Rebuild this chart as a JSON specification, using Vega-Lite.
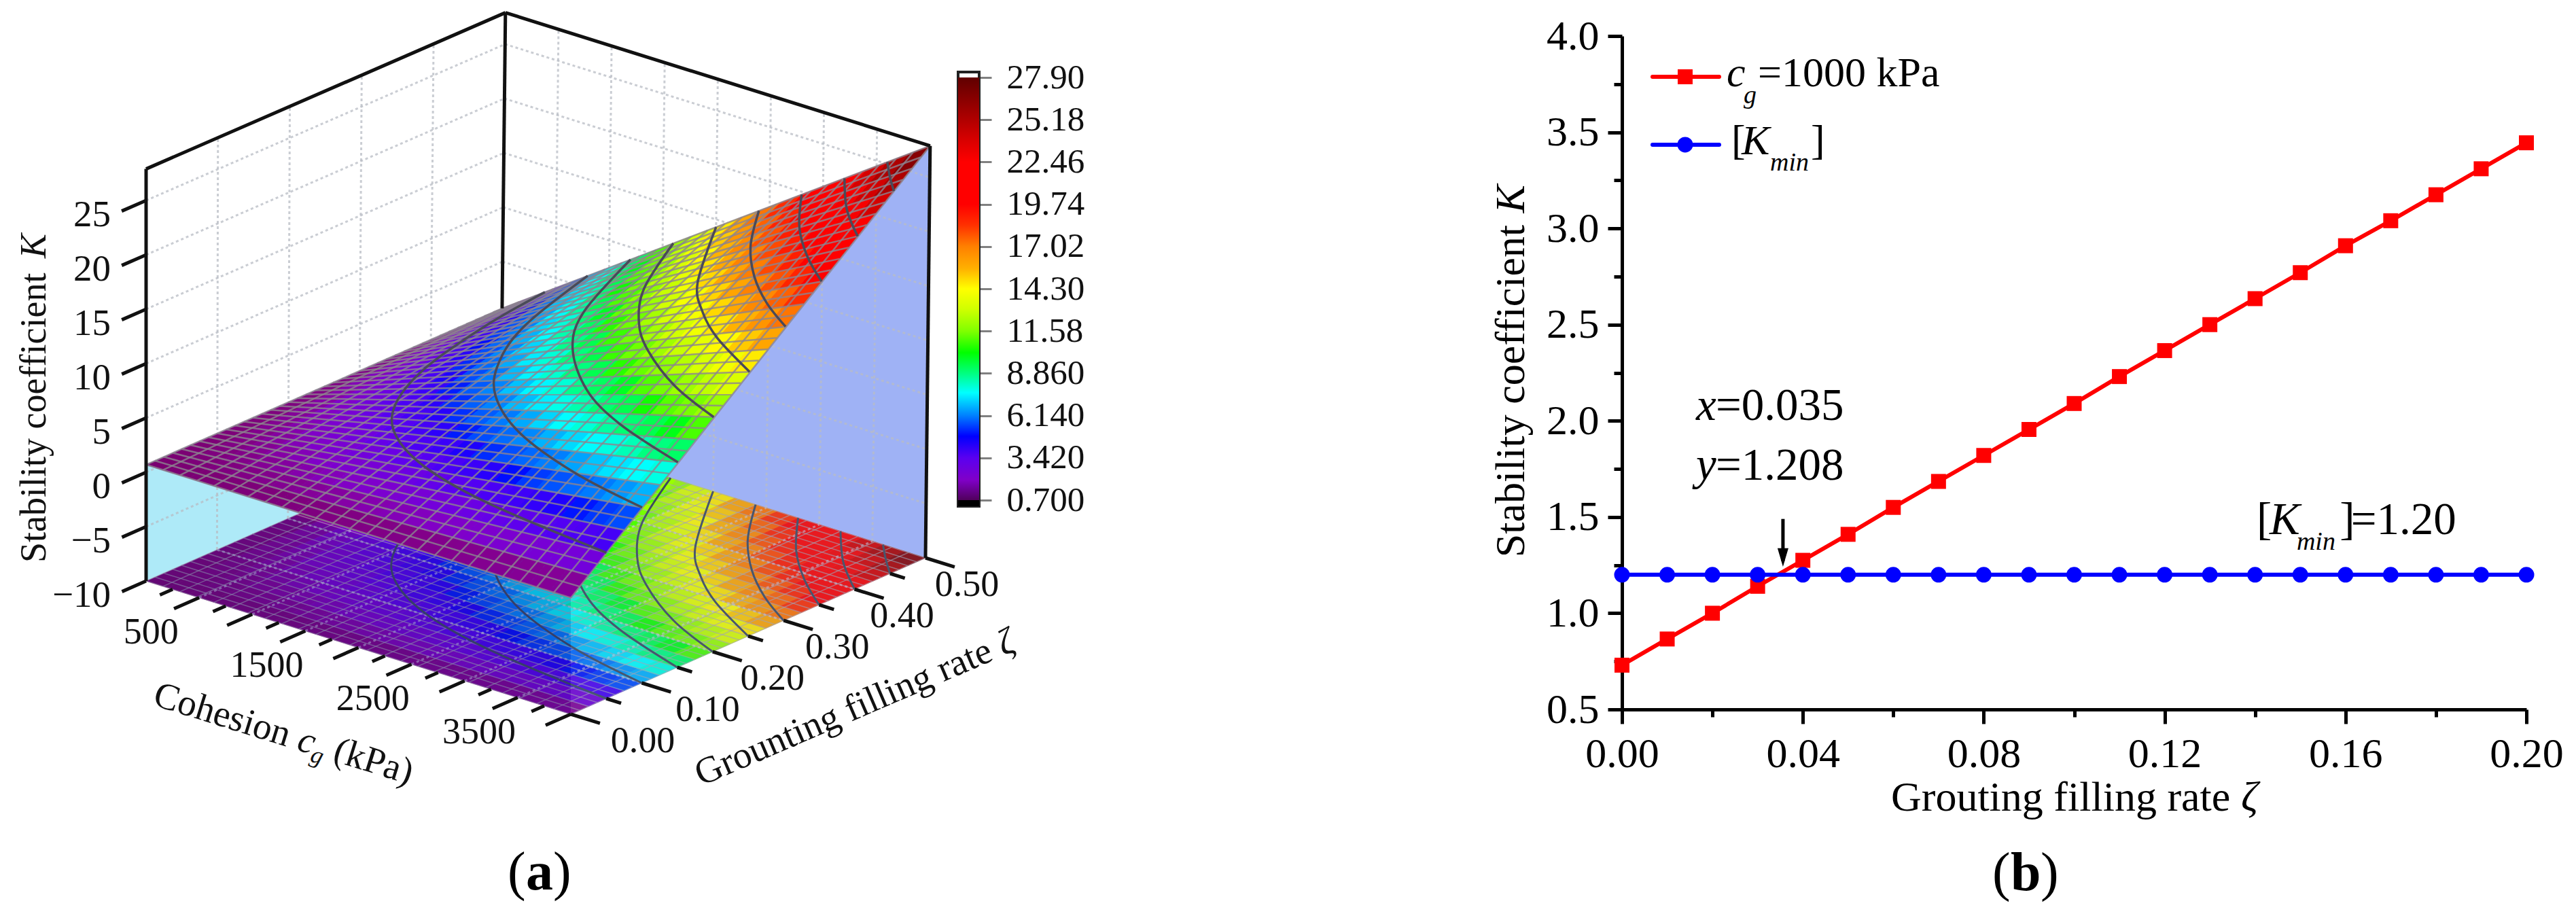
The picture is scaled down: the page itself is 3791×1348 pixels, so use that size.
{"$schema":"https://vega.github.io/schema/vega-lite/v6.json","width":3791,"height":1348,"autosize":{"type":"fit","contains":"padding"},"padding":0,"background":"white","config":{"view":{"stroke":null},"axis":{"grid":false}},
"datasets":{
"nodes":[
{"id":0,"K":0.7},{"id":1,"K":0.7},{"id":2,"K":0.7},{"id":3,"K":0.7},{"id":4,"K":0.7},{"id":5,"K":0.7},{"id":6,"K":0.7},{"id":7,"K":0.7},{"id":8,"K":0.7},{"id":9,"K":0.7},{"id":10,"K":0.7},{"id":11,"K":0.7},{"id":12,"K":0.7},{"id":13,"K":0.7},{"id":14,"K":0.7},{"id":15,"K":0.7},{"id":16,"K":0.7},{"id":17,"K":0.7},{"id":18,"K":0.7},{"id":19,"K":0.7},{"id":20,"K":0.7},
{"id":100,"K":0.7},{"id":101,"K":0.77},{"id":102,"K":0.84},{"id":103,"K":0.9},{"id":104,"K":0.97},{"id":105,"K":1.04},{"id":106,"K":1.11},{"id":107,"K":1.18},{"id":108,"K":1.24},{"id":109,"K":1.31},{"id":110,"K":1.38},{"id":111,"K":1.45},{"id":112,"K":1.52},{"id":113,"K":1.58},{"id":114,"K":1.65},{"id":115,"K":1.72},{"id":116,"K":1.79},{"id":117,"K":1.86},{"id":118,"K":1.92},{"id":119,"K":1.99},{"id":120,"K":2.06},
{"id":200,"K":0.7},{"id":201,"K":0.84},{"id":202,"K":0.97},{"id":203,"K":1.11},{"id":204,"K":1.24},{"id":205,"K":1.38},{"id":206,"K":1.52},{"id":207,"K":1.65},{"id":208,"K":1.79},{"id":209,"K":1.92},{"id":210,"K":2.06},{"id":211,"K":2.2},{"id":212,"K":2.33},{"id":213,"K":2.47},{"id":214,"K":2.6},{"id":215,"K":2.74},{"id":216,"K":2.88},{"id":217,"K":3.01},{"id":218,"K":3.15},{"id":219,"K":3.28},{"id":220,"K":3.42},
{"id":300,"K":0.7},{"id":301,"K":0.9},{"id":302,"K":1.11},{"id":303,"K":1.31},{"id":304,"K":1.52},{"id":305,"K":1.72},{"id":306,"K":1.92},{"id":307,"K":2.13},{"id":308,"K":2.33},{"id":309,"K":2.54},{"id":310,"K":2.74},{"id":311,"K":2.94},{"id":312,"K":3.15},{"id":313,"K":3.35},{"id":314,"K":3.56},{"id":315,"K":3.76},{"id":316,"K":3.96},{"id":317,"K":4.17},{"id":318,"K":4.37},{"id":319,"K":4.58},{"id":320,"K":4.78},
{"id":400,"K":0.7},{"id":401,"K":0.97},{"id":402,"K":1.24},{"id":403,"K":1.52},{"id":404,"K":1.79},{"id":405,"K":2.06},{"id":406,"K":2.33},{"id":407,"K":2.6},{"id":408,"K":2.88},{"id":409,"K":3.15},{"id":410,"K":3.42},{"id":411,"K":3.69},{"id":412,"K":3.96},{"id":413,"K":4.24},{"id":414,"K":4.51},{"id":415,"K":4.78},{"id":416,"K":5.05},{"id":417,"K":5.32},{"id":418,"K":5.6},{"id":419,"K":5.87},{"id":420,"K":6.14},
{"id":500,"K":0.7},{"id":501,"K":1.04},{"id":502,"K":1.38},{"id":503,"K":1.72},{"id":504,"K":2.06},{"id":505,"K":2.4},{"id":506,"K":2.74},{"id":507,"K":3.08},{"id":508,"K":3.42},{"id":509,"K":3.76},{"id":510,"K":4.1},{"id":511,"K":4.44},{"id":512,"K":4.78},{"id":513,"K":5.12},{"id":514,"K":5.46},{"id":515,"K":5.8},{"id":516,"K":6.14},{"id":517,"K":6.48},{"id":518,"K":6.82},{"id":519,"K":7.16},{"id":520,"K":7.5},
{"id":600,"K":0.7},{"id":601,"K":1.11},{"id":602,"K":1.52},{"id":603,"K":1.92},{"id":604,"K":2.33},{"id":605,"K":2.74},{"id":606,"K":3.15},{"id":607,"K":3.56},{"id":608,"K":3.96},{"id":609,"K":4.37},{"id":610,"K":4.78},{"id":611,"K":5.19},{"id":612,"K":5.6},{"id":613,"K":6.0},{"id":614,"K":6.41},{"id":615,"K":6.82},{"id":616,"K":7.23},{"id":617,"K":7.64},{"id":618,"K":8.04},{"id":619,"K":8.45},{"id":620,"K":8.86},
{"id":700,"K":0.7},{"id":701,"K":1.18},{"id":702,"K":1.65},{"id":703,"K":2.13},{"id":704,"K":2.6},{"id":705,"K":3.08},{"id":706,"K":3.56},{"id":707,"K":4.03},{"id":708,"K":4.51},{"id":709,"K":4.98},{"id":710,"K":5.46},{"id":711,"K":5.94},{"id":712,"K":6.41},{"id":713,"K":6.89},{"id":714,"K":7.36},{"id":715,"K":7.84},{"id":716,"K":8.32},{"id":717,"K":8.79},{"id":718,"K":9.27},{"id":719,"K":9.74},{"id":720,"K":10.22},
{"id":800,"K":0.7},{"id":801,"K":1.24},{"id":802,"K":1.79},{"id":803,"K":2.33},{"id":804,"K":2.88},{"id":805,"K":3.42},{"id":806,"K":3.96},{"id":807,"K":4.51},{"id":808,"K":5.05},{"id":809,"K":5.6},{"id":810,"K":6.14},{"id":811,"K":6.68},{"id":812,"K":7.23},{"id":813,"K":7.77},{"id":814,"K":8.32},{"id":815,"K":8.86},{"id":816,"K":9.4},{"id":817,"K":9.95},{"id":818,"K":10.49},{"id":819,"K":11.04},{"id":820,"K":11.58},
{"id":900,"K":0.7},{"id":901,"K":1.31},{"id":902,"K":1.92},{"id":903,"K":2.54},{"id":904,"K":3.15},{"id":905,"K":3.76},{"id":906,"K":4.37},{"id":907,"K":4.98},{"id":908,"K":5.6},{"id":909,"K":6.21},{"id":910,"K":6.82},{"id":911,"K":7.43},{"id":912,"K":8.04},{"id":913,"K":8.66},{"id":914,"K":9.27},{"id":915,"K":9.88},{"id":916,"K":10.49},{"id":917,"K":11.1},{"id":918,"K":11.72},{"id":919,"K":12.33},{"id":920,"K":12.94},
{"id":1000,"K":0.7},{"id":1001,"K":1.38},{"id":1002,"K":2.06},{"id":1003,"K":2.74},{"id":1004,"K":3.42},{"id":1005,"K":4.1},{"id":1006,"K":4.78},{"id":1007,"K":5.46},{"id":1008,"K":6.14},{"id":1009,"K":6.82},{"id":1010,"K":7.5},{"id":1011,"K":8.18},{"id":1012,"K":8.86},{"id":1013,"K":9.54},{"id":1014,"K":10.22},{"id":1015,"K":10.9},{"id":1016,"K":11.58},{"id":1017,"K":12.26},{"id":1018,"K":12.94},{"id":1019,"K":13.62},{"id":1020,"K":14.3},
{"id":1100,"K":0.7},{"id":1101,"K":1.45},{"id":1102,"K":2.2},{"id":1103,"K":2.94},{"id":1104,"K":3.69},{"id":1105,"K":4.44},{"id":1106,"K":5.19},{"id":1107,"K":5.94},{"id":1108,"K":6.68},{"id":1109,"K":7.43},{"id":1110,"K":8.18},{"id":1111,"K":8.93},{"id":1112,"K":9.68},{"id":1113,"K":10.42},{"id":1114,"K":11.17},{"id":1115,"K":11.92},{"id":1116,"K":12.67},{"id":1117,"K":13.42},{"id":1118,"K":14.16},{"id":1119,"K":14.91},{"id":1120,"K":15.66},
{"id":1200,"K":0.7},{"id":1201,"K":1.52},{"id":1202,"K":2.33},{"id":1203,"K":3.15},{"id":1204,"K":3.96},{"id":1205,"K":4.78},{"id":1206,"K":5.6},{"id":1207,"K":6.41},{"id":1208,"K":7.23},{"id":1209,"K":8.04},{"id":1210,"K":8.86},{"id":1211,"K":9.68},{"id":1212,"K":10.49},{"id":1213,"K":11.31},{"id":1214,"K":12.12},{"id":1215,"K":12.94},{"id":1216,"K":13.76},{"id":1217,"K":14.57},{"id":1218,"K":15.39},{"id":1219,"K":16.2},{"id":1220,"K":17.02},
{"id":1300,"K":0.7},{"id":1301,"K":1.58},{"id":1302,"K":2.47},{"id":1303,"K":3.35},{"id":1304,"K":4.24},{"id":1305,"K":5.12},{"id":1306,"K":6.0},{"id":1307,"K":6.89},{"id":1308,"K":7.77},{"id":1309,"K":8.66},{"id":1310,"K":9.54},{"id":1311,"K":10.42},{"id":1312,"K":11.31},{"id":1313,"K":12.19},{"id":1314,"K":13.08},{"id":1315,"K":13.96},{"id":1316,"K":14.84},{"id":1317,"K":15.73},{"id":1318,"K":16.61},{"id":1319,"K":17.5},{"id":1320,"K":18.38},
{"id":1400,"K":0.7},{"id":1401,"K":1.65},{"id":1402,"K":2.6},{"id":1403,"K":3.56},{"id":1404,"K":4.51},{"id":1405,"K":5.46},{"id":1406,"K":6.41},{"id":1407,"K":7.36},{"id":1408,"K":8.32},{"id":1409,"K":9.27},{"id":1410,"K":10.22},{"id":1411,"K":11.17},{"id":1412,"K":12.12},{"id":1413,"K":13.08},{"id":1414,"K":14.03},{"id":1415,"K":14.98},{"id":1416,"K":15.93},{"id":1417,"K":16.88},{"id":1418,"K":17.84},{"id":1419,"K":18.79},{"id":1420,"K":19.74},
{"id":1500,"K":0.7},{"id":1501,"K":1.72},{"id":1502,"K":2.74},{"id":1503,"K":3.76},{"id":1504,"K":4.78},{"id":1505,"K":5.8},{"id":1506,"K":6.82},{"id":1507,"K":7.84},{"id":1508,"K":8.86},{"id":1509,"K":9.88},{"id":1510,"K":10.9},{"id":1511,"K":11.92},{"id":1512,"K":12.94},{"id":1513,"K":13.96},{"id":1514,"K":14.98},{"id":1515,"K":16.0},{"id":1516,"K":17.02},{"id":1517,"K":18.04},{"id":1518,"K":19.06},{"id":1519,"K":20.08},{"id":1520,"K":21.1},
{"id":1600,"K":0.7},{"id":1601,"K":1.79},{"id":1602,"K":2.88},{"id":1603,"K":3.96},{"id":1604,"K":5.05},{"id":1605,"K":6.14},{"id":1606,"K":7.23},{"id":1607,"K":8.32},{"id":1608,"K":9.4},{"id":1609,"K":10.49},{"id":1610,"K":11.58},{"id":1611,"K":12.67},{"id":1612,"K":13.76},{"id":1613,"K":14.84},{"id":1614,"K":15.93},{"id":1615,"K":17.02},{"id":1616,"K":18.11},{"id":1617,"K":19.2},{"id":1618,"K":20.28},{"id":1619,"K":21.37},{"id":1620,"K":22.46},
{"id":1700,"K":0.7},{"id":1701,"K":1.86},{"id":1702,"K":3.01},{"id":1703,"K":4.17},{"id":1704,"K":5.32},{"id":1705,"K":6.48},{"id":1706,"K":7.64},{"id":1707,"K":8.79},{"id":1708,"K":9.95},{"id":1709,"K":11.1},{"id":1710,"K":12.26},{"id":1711,"K":13.42},{"id":1712,"K":14.57},{"id":1713,"K":15.73},{"id":1714,"K":16.88},{"id":1715,"K":18.04},{"id":1716,"K":19.2},{"id":1717,"K":20.35},{"id":1718,"K":21.51},{"id":1719,"K":22.66},{"id":1720,"K":23.82},
{"id":1800,"K":0.7},{"id":1801,"K":1.92},{"id":1802,"K":3.15},{"id":1803,"K":4.37},{"id":1804,"K":5.6},{"id":1805,"K":6.82},{"id":1806,"K":8.04},{"id":1807,"K":9.27},{"id":1808,"K":10.49},{"id":1809,"K":11.72},{"id":1810,"K":12.94},{"id":1811,"K":14.16},{"id":1812,"K":15.39},{"id":1813,"K":16.61},{"id":1814,"K":17.84},{"id":1815,"K":19.06},{"id":1816,"K":20.28},{"id":1817,"K":21.51},{"id":1818,"K":22.73},{"id":1819,"K":23.96},{"id":1820,"K":25.18},
{"id":1900,"K":0.7},{"id":1901,"K":1.99},{"id":1902,"K":3.28},{"id":1903,"K":4.58},{"id":1904,"K":5.87},{"id":1905,"K":7.16},{"id":1906,"K":8.45},{"id":1907,"K":9.74},{"id":1908,"K":11.04},{"id":1909,"K":12.33},{"id":1910,"K":13.62},{"id":1911,"K":14.91},{"id":1912,"K":16.2},{"id":1913,"K":17.5},{"id":1914,"K":18.79},{"id":1915,"K":20.08},{"id":1916,"K":21.37},{"id":1917,"K":22.66},{"id":1918,"K":23.96},{"id":1919,"K":25.25},{"id":1920,"K":26.54},
{"id":2000,"K":0.7},{"id":2001,"K":2.06},{"id":2002,"K":3.42},{"id":2003,"K":4.78},{"id":2004,"K":6.14},{"id":2005,"K":7.5},{"id":2006,"K":8.86},{"id":2007,"K":10.22},{"id":2008,"K":11.58},{"id":2009,"K":12.94},{"id":2010,"K":14.3},{"id":2011,"K":15.66},{"id":2012,"K":17.02},{"id":2013,"K":18.38},{"id":2014,"K":19.74},{"id":2015,"K":21.1},{"id":2016,"K":22.46},{"id":2017,"K":23.82},{"id":2018,"K":25.18},{"id":2019,"K":26.54},{"id":2020,"K":27.9}
],
"mesh":[
{"c1":0,"z1":0,"K1":0.7,"c2":4000,"z2":0,"K2":0.7},{"c1":0,"z1":0.0125,"K1":0.7,"c2":4000,"z2":0.0125,"K2":1.38},{"c1":0,"z1":0.025,"K1":0.7,"c2":4000,"z2":0.025,"K2":2.06},{"c1":0,"z1":0.0375,"K1":0.7,"c2":4000,"z2":0.0375,"K2":2.74},{"c1":0,"z1":0.05,"K1":0.7,"c2":4000,"z2":0.05,"K2":3.42},{"c1":0,"z1":0.0625,"K1":0.7,"c2":4000,"z2":0.0625,"K2":4.1},{"c1":0,"z1":0.075,"K1":0.7,"c2":4000,"z2":0.075,"K2":4.78},{"c1":0,"z1":0.0875,"K1":0.7,"c2":4000,"z2":0.0875,"K2":5.46},{"c1":0,"z1":0.1,"K1":0.7,"c2":4000,"z2":0.1,"K2":6.14},{"c1":0,"z1":0.1125,"K1":0.7,"c2":4000,"z2":0.1125,"K2":6.82},{"c1":0,"z1":0.125,"K1":0.7,"c2":4000,"z2":0.125,"K2":7.5},{"c1":0,"z1":0.1375,"K1":0.7,"c2":4000,"z2":0.1375,"K2":8.18},{"c1":0,"z1":0.15,"K1":0.7,"c2":4000,"z2":0.15,"K2":8.86},{"c1":0,"z1":0.1625,"K1":0.7,"c2":4000,"z2":0.1625,"K2":9.54},{"c1":0,"z1":0.175,"K1":0.7,"c2":4000,"z2":0.175,"K2":10.22},{"c1":0,"z1":0.1875,"K1":0.7,"c2":4000,"z2":0.1875,"K2":10.9},{"c1":0,"z1":0.2,"K1":0.7,"c2":4000,"z2":0.2,"K2":11.58},{"c1":0,"z1":0.2125,"K1":0.7,"c2":4000,"z2":0.2125,"K2":12.26},{"c1":0,"z1":0.225,"K1":0.7,"c2":4000,"z2":0.225,"K2":12.94},{"c1":0,"z1":0.2375,"K1":0.7,"c2":4000,"z2":0.2375,"K2":13.62},{"c1":0,"z1":0.25,"K1":0.7,"c2":4000,"z2":0.25,"K2":14.3},{"c1":0,"z1":0.2625,"K1":0.7,"c2":4000,"z2":0.2625,"K2":14.98},{"c1":0,"z1":0.275,"K1":0.7,"c2":4000,"z2":0.275,"K2":15.66},{"c1":0,"z1":0.2875,"K1":0.7,"c2":4000,"z2":0.2875,"K2":16.34},{"c1":0,"z1":0.3,"K1":0.7,"c2":4000,"z2":0.3,"K2":17.02},{"c1":0,"z1":0.3125,"K1":0.7,"c2":4000,"z2":0.3125,"K2":17.7},{"c1":0,"z1":0.325,"K1":0.7,"c2":4000,"z2":0.325,"K2":18.38},{"c1":0,"z1":0.3375,"K1":0.7,"c2":4000,"z2":0.3375,"K2":19.06},{"c1":0,"z1":0.35,"K1":0.7,"c2":4000,"z2":0.35,"K2":19.74},{"c1":0,"z1":0.3625,"K1":0.7,"c2":4000,"z2":0.3625,"K2":20.42},{"c1":0,"z1":0.375,"K1":0.7,"c2":4000,"z2":0.375,"K2":21.1},{"c1":0,"z1":0.3875,"K1":0.7,"c2":4000,"z2":0.3875,"K2":21.78},{"c1":0,"z1":0.4,"K1":0.7,"c2":4000,"z2":0.4,"K2":22.46},{"c1":0,"z1":0.4125,"K1":0.7,"c2":4000,"z2":0.4125,"K2":23.14},{"c1":0,"z1":0.425,"K1":0.7,"c2":4000,"z2":0.425,"K2":23.82},{"c1":0,"z1":0.4375,"K1":0.7,"c2":4000,"z2":0.4375,"K2":24.5},{"c1":0,"z1":0.45,"K1":0.7,"c2":4000,"z2":0.45,"K2":25.18},{"c1":0,"z1":0.4625,"K1":0.7,"c2":4000,"z2":0.4625,"K2":25.86},{"c1":0,"z1":0.475,"K1":0.7,"c2":4000,"z2":0.475,"K2":26.54},{"c1":0,"z1":0.4875,"K1":0.7,"c2":4000,"z2":0.4875,"K2":27.22},{"c1":0,"z1":0.5,"K1":0.7,"c2":4000,"z2":0.5,"K2":27.9},
{"c1":0,"z1":0,"K1":0.7,"c2":0,"z2":0.5,"K2":0.7},{"c1":160,"z1":0,"K1":0.7,"c2":160,"z2":0.5,"K2":1.79},{"c1":320,"z1":0,"K1":0.7,"c2":320,"z2":0.5,"K2":2.88},{"c1":480,"z1":0,"K1":0.7,"c2":480,"z2":0.5,"K2":3.96},{"c1":640,"z1":0,"K1":0.7,"c2":640,"z2":0.5,"K2":5.05},{"c1":800,"z1":0,"K1":0.7,"c2":800,"z2":0.5,"K2":6.14},{"c1":960,"z1":0,"K1":0.7,"c2":960,"z2":0.5,"K2":7.23},{"c1":1120,"z1":0,"K1":0.7,"c2":1120,"z2":0.5,"K2":8.32},{"c1":1280,"z1":0,"K1":0.7,"c2":1280,"z2":0.5,"K2":9.4},{"c1":1440,"z1":0,"K1":0.7,"c2":1440,"z2":0.5,"K2":10.49},{"c1":1600,"z1":0,"K1":0.7,"c2":1600,"z2":0.5,"K2":11.58},{"c1":1760,"z1":0,"K1":0.7,"c2":1760,"z2":0.5,"K2":12.67},{"c1":1920,"z1":0,"K1":0.7,"c2":1920,"z2":0.5,"K2":13.76},{"c1":2080,"z1":0,"K1":0.7,"c2":2080,"z2":0.5,"K2":14.84},{"c1":2240,"z1":0,"K1":0.7,"c2":2240,"z2":0.5,"K2":15.93},{"c1":2400,"z1":0,"K1":0.7,"c2":2400,"z2":0.5,"K2":17.02},{"c1":2560,"z1":0,"K1":0.7,"c2":2560,"z2":0.5,"K2":18.11},{"c1":2720,"z1":0,"K1":0.7,"c2":2720,"z2":0.5,"K2":19.2},{"c1":2880,"z1":0,"K1":0.7,"c2":2880,"z2":0.5,"K2":20.28},{"c1":3040,"z1":0,"K1":0.7,"c2":3040,"z2":0.5,"K2":21.37},{"c1":3200,"z1":0,"K1":0.7,"c2":3200,"z2":0.5,"K2":22.46},{"c1":3360,"z1":0,"K1":0.7,"c2":3360,"z2":0.5,"K2":23.55},{"c1":3520,"z1":0,"K1":0.7,"c2":3520,"z2":0.5,"K2":24.64},{"c1":3680,"z1":0,"K1":0.7,"c2":3680,"z2":0.5,"K2":25.72},{"c1":3840,"z1":0,"K1":0.7,"c2":3840,"z2":0.5,"K2":26.81},{"c1":4000,"z1":0,"K1":0.7,"c2":4000,"z2":0.5,"K2":27.9}
],
"contours":[
{"L":3.42,"c":4000,"zeta":0.05},{"L":3.42,"c":2800,"zeta":0.0714},{"L":3.42,"c":2000,"zeta":0.1},{"L":3.42,"c":1400,"zeta":0.143},{"L":3.42,"c":1000,"zeta":0.2},{"L":3.42,"c":700,"zeta":0.286},{"L":3.42,"c":500,"zeta":0.4},{"L":3.42,"c":400,"zeta":0.5},
{"L":6.14,"c":4000,"zeta":0.1},{"L":6.14,"c":3200,"zeta":0.125},{"L":6.14,"c":2400,"zeta":0.167},{"L":6.14,"c":1800,"zeta":0.222},{"L":6.14,"c":1400,"zeta":0.286},{"L":6.14,"c":1080,"zeta":0.37},{"L":6.14,"c":800,"zeta":0.5},
{"L":8.86,"c":4000,"zeta":0.15},{"L":8.86,"c":3200,"zeta":0.1875},{"L":8.86,"c":2600,"zeta":0.231},{"L":8.86,"c":2000,"zeta":0.3},{"L":8.86,"c":1600,"zeta":0.375},{"L":8.86,"c":1200,"zeta":0.5},
{"L":11.58,"c":4000,"zeta":0.2},{"L":11.58,"c":3400,"zeta":0.235},{"L":11.58,"c":2800,"zeta":0.286},{"L":11.58,"c":2400,"zeta":0.333},{"L":11.58,"c":2000,"zeta":0.4},{"L":11.58,"c":1600,"zeta":0.5},
{"L":14.3,"c":4000,"zeta":0.25},{"L":14.3,"c":3400,"zeta":0.294},{"L":14.3,"c":3000,"zeta":0.333},{"L":14.3,"c":2600,"zeta":0.385},{"L":14.3,"c":2000,"zeta":0.5},
{"L":17.02,"c":4000,"zeta":0.3},{"L":17.02,"c":3600,"zeta":0.333},{"L":17.02,"c":3200,"zeta":0.375},{"L":17.02,"c":2800,"zeta":0.429},{"L":17.02,"c":2400,"zeta":0.5},
{"L":19.74,"c":4000,"zeta":0.35},{"L":19.74,"c":3600,"zeta":0.389},{"L":19.74,"c":3200,"zeta":0.4375},{"L":19.74,"c":2800,"zeta":0.5},
{"L":22.46,"c":4000,"zeta":0.4},{"L":22.46,"c":3600,"zeta":0.444},{"L":22.46,"c":3200,"zeta":0.5},
{"L":25.18,"c":4000,"zeta":0.45},{"L":25.18,"c":3800,"zeta":0.474},{"L":25.18,"c":3600,"zeta":0.5}
],
"walls":[
{"wall":"left","v":0,"c":0,"zeta":0,"z":-10},{"wall":"left","v":1,"c":0,"zeta":0.5,"z":-10},{"wall":"left","v":2,"c":0,"zeta":0.5,"z":0.7},{"wall":"left","v":3,"c":0,"zeta":0,"z":0.7},
{"wall":"back","v":0,"c":0,"zeta":0.5,"z":-10},{"wall":"back","v":1,"c":4000,"zeta":0.5,"z":-10},{"wall":"back","v":2,"c":4000,"zeta":0.5,"z":27.9},{"wall":"back","v":3,"c":0,"zeta":0.5,"z":0.7},
{"wall":"front","v":0,"c":0,"zeta":0,"z":-10},{"wall":"front","v":1,"c":4000,"zeta":0,"z":-10},{"wall":"front","v":2,"c":4000,"zeta":0,"z":0.7},{"wall":"front","v":3,"c":0,"zeta":0.21,"z":-10},
{"wall":"side","v":0,"c":4000,"zeta":0,"z":-10},{"wall":"side","v":1,"c":4000,"zeta":0.5,"z":-10},{"wall":"side","v":2,"c":1651,"zeta":0.5,"z":-10},{"wall":"side","v":3,"c":4000,"zeta":0,"z":0.7}
],
"segs":[
{"set":"grid","c1":0,"z1":0.1,"K1":-10,"c2":0,"z2":0.1,"K2":27.9},{"set":"grid","c1":0,"z1":0.2,"K1":-10,"c2":0,"z2":0.2,"K2":27.9},{"set":"grid","c1":0,"z1":0.3,"K1":-10,"c2":0,"z2":0.3,"K2":27.9},{"set":"grid","c1":0,"z1":0.4,"K1":-10,"c2":0,"z2":0.4,"K2":27.9},
{"set":"grid","c1":0,"z1":0,"K1":-5,"c2":0,"z2":0.5,"K2":-5},{"set":"grid","c1":0,"z1":0,"K1":0,"c2":0,"z2":0.5,"K2":0},{"set":"grid","c1":0,"z1":0,"K1":5,"c2":0,"z2":0.5,"K2":5},{"set":"grid","c1":0,"z1":0,"K1":10,"c2":0,"z2":0.5,"K2":10},{"set":"grid","c1":0,"z1":0,"K1":15,"c2":0,"z2":0.5,"K2":15},{"set":"grid","c1":0,"z1":0,"K1":20,"c2":0,"z2":0.5,"K2":20},{"set":"grid","c1":0,"z1":0,"K1":25,"c2":0,"z2":0.5,"K2":25},
{"set":"grid","c1":500,"z1":0.5,"K1":-10,"c2":500,"z2":0.5,"K2":27.9},{"set":"grid","c1":1000,"z1":0.5,"K1":-10,"c2":1000,"z2":0.5,"K2":27.9},{"set":"grid","c1":1500,"z1":0.5,"K1":-10,"c2":1500,"z2":0.5,"K2":27.9},{"set":"grid","c1":2000,"z1":0.5,"K1":-10,"c2":2000,"z2":0.5,"K2":27.9},{"set":"grid","c1":2500,"z1":0.5,"K1":-10,"c2":2500,"z2":0.5,"K2":27.9},{"set":"grid","c1":3000,"z1":0.5,"K1":-10,"c2":3000,"z2":0.5,"K2":27.9},{"set":"grid","c1":3500,"z1":0.5,"K1":-10,"c2":3500,"z2":0.5,"K2":27.9},
{"set":"grid","c1":0,"z1":0.5,"K1":-5,"c2":4000,"z2":0.5,"K2":-5},{"set":"grid","c1":0,"z1":0.5,"K1":0,"c2":4000,"z2":0.5,"K2":0},{"set":"grid","c1":0,"z1":0.5,"K1":5,"c2":4000,"z2":0.5,"K2":5},{"set":"grid","c1":0,"z1":0.5,"K1":10,"c2":4000,"z2":0.5,"K2":10},{"set":"grid","c1":0,"z1":0.5,"K1":15,"c2":4000,"z2":0.5,"K2":15},{"set":"grid","c1":0,"z1":0.5,"K1":20,"c2":4000,"z2":0.5,"K2":20},{"set":"grid","c1":0,"z1":0.5,"K1":25,"c2":4000,"z2":0.5,"K2":25},
{"set":"floor","c1":0,"z1":0.1,"K1":-10,"c2":4000,"z2":0.1,"K2":-10},{"set":"floor","c1":0,"z1":0.2,"K1":-10,"c2":4000,"z2":0.2,"K2":-10},{"set":"floor","c1":0,"z1":0.3,"K1":-10,"c2":4000,"z2":0.3,"K2":-10},{"set":"floor","c1":0,"z1":0.4,"K1":-10,"c2":4000,"z2":0.4,"K2":-10},
{"set":"floor","c1":500,"z1":0,"K1":-10,"c2":500,"z2":0.5,"K2":-10},{"set":"floor","c1":1000,"z1":0,"K1":-10,"c2":1000,"z2":0.5,"K2":-10},{"set":"floor","c1":1500,"z1":0,"K1":-10,"c2":1500,"z2":0.5,"K2":-10},{"set":"floor","c1":2000,"z1":0,"K1":-10,"c2":2000,"z2":0.5,"K2":-10},{"set":"floor","c1":2500,"z1":0,"K1":-10,"c2":2500,"z2":0.5,"K2":-10},{"set":"floor","c1":3000,"z1":0,"K1":-10,"c2":3000,"z2":0.5,"K2":-10},{"set":"floor","c1":3500,"z1":0,"K1":-10,"c2":3500,"z2":0.5,"K2":-10},
{"set":"frame","c1":0,"z1":0,"K1":-10,"c2":0,"z2":0,"K2":27.9},{"set":"frame","c1":0,"z1":0,"K1":27.9,"c2":0,"z2":0.5,"K2":27.9},{"set":"frame","c1":0,"z1":0.5,"K1":0.7,"c2":0,"z2":0.5,"K2":27.9},{"set":"frame","c1":0,"z1":0.5,"K1":27.9,"c2":4000,"z2":0.5,"K2":27.9},{"set":"frame","c1":4000,"z1":0.5,"K1":-10,"c2":4000,"z2":0.5,"K2":27.9},
{"set":"tick","c1":500,"z1":0,"K1":-10,"c2":500,"z2":-0.0355,"K2":-10},{"set":"tick","c1":1000,"z1":0,"K1":-10,"c2":1000,"z2":-0.0355,"K2":-10},{"set":"tick","c1":1500,"z1":0,"K1":-10,"c2":1500,"z2":-0.0355,"K2":-10},{"set":"tick","c1":2000,"z1":0,"K1":-10,"c2":2000,"z2":-0.0355,"K2":-10},{"set":"tick","c1":2500,"z1":0,"K1":-10,"c2":2500,"z2":-0.0355,"K2":-10},{"set":"tick","c1":3000,"z1":0,"K1":-10,"c2":3000,"z2":-0.0355,"K2":-10},{"set":"tick","c1":3500,"z1":0,"K1":-10,"c2":3500,"z2":-0.0355,"K2":-10},{"set":"tick","c1":4000,"z1":0,"K1":-10,"c2":4000,"z2":-0.0355,"K2":-10},
{"set":"tick","c1":250,"z1":0,"K1":-10,"c2":250,"z2":-0.018,"K2":-10},{"set":"tick","c1":750,"z1":0,"K1":-10,"c2":750,"z2":-0.018,"K2":-10},{"set":"tick","c1":1250,"z1":0,"K1":-10,"c2":1250,"z2":-0.018,"K2":-10},{"set":"tick","c1":1750,"z1":0,"K1":-10,"c2":1750,"z2":-0.018,"K2":-10},{"set":"tick","c1":2250,"z1":0,"K1":-10,"c2":2250,"z2":-0.018,"K2":-10},{"set":"tick","c1":2750,"z1":0,"K1":-10,"c2":2750,"z2":-0.018,"K2":-10},{"set":"tick","c1":3250,"z1":0,"K1":-10,"c2":3250,"z2":-0.018,"K2":-10},{"set":"tick","c1":3750,"z1":0,"K1":-10,"c2":3750,"z2":-0.018,"K2":-10},
{"set":"tick","c1":4000,"z1":0,"K1":-10,"c2":4275,"z2":0,"K2":-10},{"set":"tick","c1":4000,"z1":0.1,"K1":-10,"c2":4275,"z2":0.1,"K2":-10},{"set":"tick","c1":4000,"z1":0.2,"K1":-10,"c2":4275,"z2":0.2,"K2":-10},{"set":"tick","c1":4000,"z1":0.3,"K1":-10,"c2":4275,"z2":0.3,"K2":-10},{"set":"tick","c1":4000,"z1":0.4,"K1":-10,"c2":4275,"z2":0.4,"K2":-10},{"set":"tick","c1":4000,"z1":0.5,"K1":-10,"c2":4275,"z2":0.5,"K2":-10},
{"set":"tick","c1":4000,"z1":0.05,"K1":-10,"c2":4140,"z2":0.05,"K2":-10},{"set":"tick","c1":4000,"z1":0.15,"K1":-10,"c2":4140,"z2":0.15,"K2":-10},{"set":"tick","c1":4000,"z1":0.25,"K1":-10,"c2":4140,"z2":0.25,"K2":-10},{"set":"tick","c1":4000,"z1":0.35,"K1":-10,"c2":4140,"z2":0.35,"K2":-10},{"set":"tick","c1":4000,"z1":0.45,"K1":-10,"c2":4140,"z2":0.45,"K2":-10},
{"set":"tick","c1":0,"z1":0,"K1":-10,"c2":0,"z2":-0.034,"K2":-10},{"set":"tick","c1":0,"z1":0,"K1":-5,"c2":0,"z2":-0.034,"K2":-5},{"set":"tick","c1":0,"z1":0,"K1":0,"c2":0,"z2":-0.034,"K2":0},{"set":"tick","c1":0,"z1":0,"K1":5,"c2":0,"z2":-0.034,"K2":5},{"set":"tick","c1":0,"z1":0,"K1":10,"c2":0,"z2":-0.034,"K2":10},{"set":"tick","c1":0,"z1":0,"K1":15,"c2":0,"z2":-0.034,"K2":15},{"set":"tick","c1":0,"z1":0,"K1":20,"c2":0,"z2":-0.034,"K2":20},{"set":"tick","c1":0,"z1":0,"K1":25,"c2":0,"z2":-0.034,"K2":25}
],
"ticklabels":[
{"axis":"c","c":500,"zeta":0,"z":-10,"label":"500"},{"axis":"c","c":1500,"zeta":0,"z":-10,"label":"1500"},{"axis":"c","c":2500,"zeta":0,"z":-10,"label":"2500"},{"axis":"c","c":3500,"zeta":0,"z":-10,"label":"3500"},
{"axis":"zeta","c":4000,"zeta":0,"z":-10,"label":"0.00"},{"axis":"zeta","c":4000,"zeta":0.1,"z":-10,"label":"0.10"},{"axis":"zeta","c":4000,"zeta":0.2,"z":-10,"label":"0.20"},{"axis":"zeta","c":4000,"zeta":0.3,"z":-10,"label":"0.30"},{"axis":"zeta","c":4000,"zeta":0.4,"z":-10,"label":"0.40"},{"axis":"zeta","c":4000,"zeta":0.5,"z":-10,"label":"0.50"},
{"axis":"z","c":0,"zeta":0,"z":-10,"label":"−10"},{"axis":"z","c":0,"zeta":0,"z":-5,"label":"−5"},{"axis":"z","c":0,"zeta":0,"z":0,"label":"0"},{"axis":"z","c":0,"zeta":0,"z":5,"label":"5"},{"axis":"z","c":0,"zeta":0,"z":10,"label":"10"},{"axis":"z","c":0,"zeta":0,"z":15,"label":"15"},{"axis":"z","c":0,"zeta":0,"z":20,"label":"20"},{"axis":"z","c":0,"zeta":0,"z":25,"label":"25"}
],
"titlesA":[
{"g":"coh","text":"Cohesion","c":1574,"zeta":-0.228,"z":-10},{"g":"cohi","text":"c","c":2927,"zeta":-0.2273,"z":-10},{"g":"cohs","text":"g","c":3146,"zeta":-0.241,"z":-10},{"g":"coh","text":"(kPa)","c":3261,"zeta":-0.2265,"z":-10},
{"g":"gro","text":"Grounting filling rate","c":5617,"zeta":-0.0582,"z":-10},{"g":"groi","text":"ζ","c":5660,"zeta":0.3617,"z":-10},
{"g":"zt","text":"Stability coefficient","c":-782,"zeta":-0.0246,"z":-10},{"g":"zti","text":"K","c":-782,"zeta":-0.0246,"z":18},
{"g":"par","text":"(","c":5842,"zeta":-0.3647,"z":-10},{"g":"bold","text":"a","c":5943,"zeta":-0.354,"z":-10},{"g":"par","text":")","c":6092,"zeta":-0.338,"z":-10}
],
"cbar":[{"part":"frame","K1":0.306,"K2":28.25},{"part":"cap","K1":0.306,"K2":0.7},{"part":"bar","K1":0.7,"K2":27.9}],
"series":[
{"s":"cg","zeta":0,"K":0.73},{"s":"cg","zeta":0.01,"K":0.866},{"s":"cg","zeta":0.02,"K":1.0},{"s":"cg","zeta":0.03,"K":1.14},{"s":"cg","zeta":0.04,"K":1.275},{"s":"cg","zeta":0.05,"K":1.41},{"s":"cg","zeta":0.06,"K":1.55},{"s":"cg","zeta":0.07,"K":1.685},{"s":"cg","zeta":0.08,"K":1.82},{"s":"cg","zeta":0.09,"K":1.955},{"s":"cg","zeta":0.1,"K":2.09},{"s":"cg","zeta":0.11,"K":2.23},{"s":"cg","zeta":0.12,"K":2.365},{"s":"cg","zeta":0.13,"K":2.5},{"s":"cg","zeta":0.14,"K":2.635},{"s":"cg","zeta":0.15,"K":2.77},{"s":"cg","zeta":0.16,"K":2.91},{"s":"cg","zeta":0.17,"K":3.04},{"s":"cg","zeta":0.18,"K":3.175},{"s":"cg","zeta":0.19,"K":3.31},{"s":"cg","zeta":0.2,"K":3.445},
{"s":"min","zeta":0,"K":1.2},{"s":"min","zeta":0.01,"K":1.2},{"s":"min","zeta":0.02,"K":1.2},{"s":"min","zeta":0.03,"K":1.2},{"s":"min","zeta":0.04,"K":1.2},{"s":"min","zeta":0.05,"K":1.2},{"s":"min","zeta":0.06,"K":1.2},{"s":"min","zeta":0.07,"K":1.2},{"s":"min","zeta":0.08,"K":1.2},{"s":"min","zeta":0.09,"K":1.2},{"s":"min","zeta":0.1,"K":1.2},{"s":"min","zeta":0.11,"K":1.2},{"s":"min","zeta":0.12,"K":1.2},{"s":"min","zeta":0.13,"K":1.2},{"s":"min","zeta":0.14,"K":1.2},{"s":"min","zeta":0.15,"K":1.2},{"s":"min","zeta":0.16,"K":1.2},{"s":"min","zeta":0.17,"K":1.2},{"s":"min","zeta":0.18,"K":1.2},{"s":"min","zeta":0.19,"K":1.2},{"s":"min","zeta":0.2,"K":1.2}
],
"notesB":[
{"g":"yt","text":"Stability coefficient","zeta":-0.0216,"K":1.29},{"g":"yti","text":"K","zeta":-0.0216,"K":3.08},
{"g":"xt","text":"Grouting filling rate","zeta":0.0595,"K":-0.028},{"g":"it62","text":"ζ","zeta":0.1369,"K":-0.028},
{"g":"it62","text":"c","zeta":0.02314,"K":3.7385},{"g":"sub","text":"g","zeta":0.0269,"K":3.65},{"g":"xt","text":"=1000 kPa","zeta":0.03005,"K":3.7385},
{"g":"xt","text":"[","zeta":0.0242,"K":3.385},{"g":"it62","text":"K","zeta":0.02645,"K":3.385},{"g":"sub","text":"min","zeta":0.03276,"K":3.3},{"g":"xt","text":"]","zeta":0.04177,"K":3.385},
{"g":"it66","text":"x","zeta":0.01638,"K":2.0035},{"g":"re66","text":"=0.035","zeta":0.02074,"K":2.0035},{"g":"it66","text":"y","zeta":0.01638,"K":1.6926},{"g":"re66","text":"=1.208","zeta":0.02074,"K":1.6926},
{"g":"re66","text":"[","zeta":0.14035,"K":1.41},{"g":"it66","text":"K","zeta":0.1432,"K":1.41},{"g":"sub","text":"min","zeta":0.1492,"K":1.3286},{"g":"re66","text":"]","zeta":0.1587,"K":1.41},{"g":"re66","text":"=1.20","zeta":0.1612,"K":1.41},
{"g":"par","text":"(","zeta":0.0819,"K":-0.438},{"g":"bold","text":"b","zeta":0.08595,"K":-0.438},{"g":"par","text":")","zeta":0.09256,"K":-0.438}
],
"keysB":[{"s":"cg","zeta":0.00676,"zeta2":0.02149,"mid":0.01397,"K":3.788},{"s":"min","zeta":0.00676,"zeta2":0.02149,"mid":0.01397,"K":3.435}],
"arrowB":[{"zeta":0.0356,"K":1.49,"K2":1.27}]
},
"layer":[
{"encoding":{"x":{"field":"px","type":"quantitative","scale":{"domain":[0,3791],"range":[0,3791]},"axis":null},"y":{"field":"py","type":"quantitative","scale":{"domain":[0,1348],"range":[0,1348]},"axis":null}},
"layer":[
{"data":{"name":"walls"},"transform":[{"filter":"datum.wall=='left'||datum.wall=='back'"},{"calculate":"215+0.15625*datum.c+1044*datum.zeta+0.36*(datum.z+10)*datum.zeta","as":"px"},{"calculate":"855+0.049*datum.c-460*datum.zeta-16*(datum.z+10)","as":"py"}],"mark":{"type":"line","strokeWidth":0},"encoding":{"order":{"field":"v"},"detail":{"field":"wall"},"fill":{"field":"wall","type":"nominal","scale":{"domain":["left","back","front","side"],"range":["#aeeaf8","#9fb2f5","#241a80","#8090b0"]},"legend":null}}},
{"data":{"name":"segs"},"transform":[{"filter":"datum.set=='grid'"},{"calculate":"215+0.15625*datum.c1+1044*datum.z1+0.36*(datum.K1+10)*datum.z1","as":"px"},{"calculate":"855+0.049*datum.c1-460*datum.z1-16*(datum.K1+10)","as":"py"},{"calculate":"215+0.15625*datum.c2+1044*datum.z2+0.36*(datum.K2+10)*datum.z2","as":"px2"},{"calculate":"855+0.049*datum.c2-460*datum.z2-16*(datum.K2+10)","as":"py2"}],"mark":{"type":"rule","stroke":"#b8bcc4","strokeWidth":3,"strokeDash":[4,4],"opacity":0.75},"encoding":{"x2":{"field":"px2"},"y2":{"field":"py2"}}},
{"data":{"name":"nodes"},"transform":[{"filter":"datum.id%100<20&&datum.id<2000"},{"calculate":"[0,1,2,3]","as":"corner"},{"flatten":["corner"]},{"calculate":"datum.id+(datum.corner==1||datum.corner==2?100:0)+(datum.corner>=2?1:0)","as":"vid"},{"lookup":"vid","from":{"data":{"name":"nodes"},"key":"id","fields":["K"]},"as":["Kv"]},{"joinaggregate":[{"op":"mean","field":"Kv","as":"Kc"}],"groupby":["id"]},{"calculate":"floor(datum.vid/100)*200","as":"c"},{"calculate":"(datum.vid%100)*0.025","as":"zeta"},{"calculate":"215+0.15625*datum.c+1044*datum.zeta","as":"px"},{"calculate":"855+0.049*datum.c-460*datum.zeta","as":"py"}],"mark":{"type":"line","strokeWidth":1},"encoding":{"order":{"field":"corner"},"detail":{"field":"id"},"fill":{"field":"Kc","type":"quantitative","legend":null,"scale":{"domain":[0.7,2,3.42,4.8,6.14,7.6,8.86,10.2,11.58,13,14.3,15.6,17.02,18.4,19.74,22.46,23.8,25.18,27.9],"range":["#7a0070","#8000c8","#5a00f0","#0000ff","#0080ff","#00ffff","#00ff80","#00ff00","#80ff00","#d0ff00","#ffff00","#ffb000","#ff8000","#ff3000","#ff0000","#ff0000","#d80000","#b00000","#600000"]}},"stroke":{"field":"Kc","type":"quantitative","legend":null,"scale":{"domain":[0.7,2,3.42,4.8,6.14,7.6,8.86,10.2,11.58,13,14.3,15.6,17.02,18.4,19.74,22.46,23.8,25.18,27.9],"range":["#7a0070","#8000c8","#5a00f0","#0000ff","#0080ff","#00ffff","#00ff80","#00ff00","#80ff00","#d0ff00","#ffff00","#ffb000","#ff8000","#ff3000","#ff0000","#ff0000","#d80000","#b00000","#600000"]}}}},
{"data":{"name":"mesh"},"transform":[{"calculate":"215+0.15625*datum.c1+1044*datum.z1","as":"px"},{"calculate":"855+0.049*datum.c1-460*datum.z1","as":"py"},{"calculate":"215+0.15625*datum.c2+1044*datum.z2","as":"px2"},{"calculate":"855+0.049*datum.c2-460*datum.z2","as":"py2"}],"mark":{"type":"rule","stroke":"#a8a8b8","strokeWidth":1.5,"opacity":0.6},"encoding":{"x2":{"field":"px2"},"y2":{"field":"py2"}}},
{"data":{"name":"segs"},"transform":[{"filter":"datum.set=='floor'"},{"calculate":"215+0.15625*datum.c1+1044*datum.z1","as":"px"},{"calculate":"855+0.049*datum.c1-460*datum.z1","as":"py"},{"calculate":"215+0.15625*datum.c2+1044*datum.z2","as":"px2"},{"calculate":"855+0.049*datum.c2-460*datum.z2","as":"py2"}],"mark":{"type":"rule","stroke":"#d0d0e8","strokeWidth":3,"strokeDash":[4,4],"opacity":0.55},"encoding":{"x2":{"field":"px2"},"y2":{"field":"py2"}}},
{"data":{"name":"contours"},"transform":[{"calculate":"215+0.15625*datum.c+1044*datum.zeta","as":"px"},{"calculate":"855+0.049*datum.c-460*datum.zeta","as":"py"}],"mark":{"type":"line","stroke":"#3c4a60","strokeWidth":3,"interpolate":"cardinal"},"encoding":{"detail":{"field":"L"},"order":{"field":"c","sort":"descending"}}},
{"data":{"name":"walls"},"transform":[{"filter":"datum.wall=='front'"},{"calculate":"215+0.15625*datum.c+1044*datum.zeta+0.36*(datum.z+10)*datum.zeta","as":"px"},{"calculate":"855+0.049*datum.c-460*datum.zeta-16*(datum.z+10)","as":"py"}],"mark":{"type":"line","strokeWidth":0,"fill":"#241a80","fillOpacity":0.25},"encoding":{"order":{"field":"v"}}},
{"data":{"name":"walls"},"transform":[{"filter":"datum.wall=='side'"},{"calculate":"215+0.15625*datum.c+1044*datum.zeta+0.36*(datum.z+10)*datum.zeta","as":"px"},{"calculate":"855+0.049*datum.c-460*datum.zeta-16*(datum.z+10)","as":"py"}],"mark":{"type":"line","strokeWidth":0,"fill":"#8090b0","fillOpacity":0.18},"encoding":{"order":{"field":"v"}}},
{"data":{"name":"nodes"},"transform":[{"filter":"datum.id%100<20&&datum.id<2000"},{"calculate":"[0,1,2,3]","as":"corner"},{"flatten":["corner"]},{"calculate":"datum.id+(datum.corner==1||datum.corner==2?100:0)+(datum.corner>=2?1:0)","as":"vid"},{"lookup":"vid","from":{"data":{"name":"nodes"},"key":"id","fields":["K"]},"as":["Kv"]},{"joinaggregate":[{"op":"mean","field":"Kv","as":"Kc"}],"groupby":["id"]},{"calculate":"floor(datum.vid/100)*200","as":"c"},{"calculate":"(datum.vid%100)*0.025","as":"zeta"},{"calculate":"215+0.15625*datum.c+1044*datum.zeta+0.36*(datum.Kv+10)*datum.zeta","as":"px"},{"calculate":"855+0.049*datum.c-460*datum.zeta-16*(datum.Kv+10)","as":"py"}],"mark":{"type":"line","strokeWidth":1},"encoding":{"order":{"field":"corner"},"detail":{"field":"id"},"fill":{"field":"Kc","type":"quantitative","legend":null,"scale":{"domain":[0.7,2,3.42,4.8,6.14,7.6,8.86,10.2,11.58,13,14.3,15.6,17.02,18.4,19.74,22.46,23.8,25.18,27.9],"range":["#7a0070","#8000c8","#5a00f0","#0000ff","#0080ff","#00ffff","#00ff80","#00ff00","#80ff00","#d0ff00","#ffff00","#ffb000","#ff8000","#ff3000","#ff0000","#ff0000","#d80000","#b00000","#600000"]}},"stroke":{"field":"Kc","type":"quantitative","legend":null,"scale":{"domain":[0.7,2,3.42,4.8,6.14,7.6,8.86,10.2,11.58,13,14.3,15.6,17.02,18.4,19.74,22.46,23.8,25.18,27.9],"range":["#7a0070","#8000c8","#5a00f0","#0000ff","#0080ff","#00ffff","#00ff80","#00ff00","#80ff00","#d0ff00","#ffff00","#ffb000","#ff8000","#ff3000","#ff0000","#ff0000","#d80000","#b00000","#600000"]}}}},
{"data":{"name":"mesh"},"transform":[{"calculate":"215+0.15625*datum.c1+1044*datum.z1+0.36*(datum.K1+10)*datum.z1","as":"px"},{"calculate":"855+0.049*datum.c1-460*datum.z1-16*(datum.K1+10)","as":"py"},{"calculate":"215+0.15625*datum.c2+1044*datum.z2+0.36*(datum.K2+10)*datum.z2","as":"px2"},{"calculate":"855+0.049*datum.c2-460*datum.z2-16*(datum.K2+10)","as":"py2"}],"mark":{"type":"rule","stroke":"#8c8490","strokeWidth":2.5,"opacity":0.8},"encoding":{"x2":{"field":"px2"},"y2":{"field":"py2"}}},
{"data":{"name":"contours"},"transform":[{"calculate":"215+0.15625*datum.c+1044*datum.zeta+0.36*(datum.L+10)*datum.zeta","as":"px"},{"calculate":"855+0.049*datum.c-460*datum.zeta-16*(datum.L+10)","as":"py"}],"mark":{"type":"line","stroke":"#4a4a58","strokeWidth":3.5,"interpolate":"cardinal"},"encoding":{"detail":{"field":"L"},"order":{"field":"c","sort":"descending"}}},
{"data":{"name":"segs"},"transform":[{"filter":"datum.set=='frame'||datum.set=='tick'"},{"calculate":"215+0.15625*datum.c1+1044*datum.z1+0.36*(datum.K1+10)*datum.z1","as":"px"},{"calculate":"855+0.049*datum.c1-460*datum.z1-16*(datum.K1+10)","as":"py"},{"calculate":"215+0.15625*datum.c2+1044*datum.z2+0.36*(datum.K2+10)*datum.z2","as":"px2"},{"calculate":"855+0.049*datum.c2-460*datum.z2-16*(datum.K2+10)","as":"py2"}],"mark":{"type":"rule","stroke":"#111111","strokeWidth":5},"encoding":{"x2":{"field":"px2"},"y2":{"field":"py2"}}},
{"data":{"name":"ticklabels"},"transform":[{"filter":"datum.axis!='z'"},{"calculate":"215+0.15625*datum.c+1044*datum.zeta+(datum.axis=='c'?(datum.c==500?-71:-57):106-90*datum.zeta)","as":"px"},{"calculate":"855+0.049*datum.c-460*datum.zeta+(datum.axis=='c'?51:40)","as":"py"}],"mark":{"type":"text","font":"Liberation Serif","fontSize":54,"fill":"#111111","align":"center","baseline":"middle"},"encoding":{"text":{"field":"label"}}},
{"data":{"name":"ticklabels"},"transform":[{"filter":"datum.axis=='z'"},{"calculate":"215-52","as":"px"},{"calculate":"855-16*(datum.z+10)+38","as":"py"}],"mark":{"type":"text","font":"Liberation Serif","fontSize":55,"fill":"#111111","align":"right","baseline":"alphabetic"},"encoding":{"text":{"field":"label"}}},
{"data":{"name":"titlesA"},"transform":[{"calculate":"215+0.15625*datum.c+1044*datum.zeta+0.36*(datum.z+10)*datum.zeta","as":"px"},{"calculate":"855+0.049*datum.c-460*datum.zeta-16*(datum.z+10)","as":"py"}],"encoding":{"text":{"field":"text"}},"layer":[
{"transform":[{"filter":"datum.g=='coh'"}],"mark":{"type":"text","font":"Liberation Serif","fontSize":55,"fill":"#111111","align":"left","baseline":"alphabetic","angle":17.3}},
{"transform":[{"filter":"datum.g=='cohi'"}],"mark":{"type":"text","font":"Liberation Serif","fontStyle":"italic","fontSize":55,"fill":"#111111","align":"left","baseline":"alphabetic","angle":17.3}},
{"transform":[{"filter":"datum.g=='cohs'"}],"mark":{"type":"text","font":"Liberation Serif","fontStyle":"italic","fontSize":36,"fill":"#111111","align":"left","baseline":"alphabetic","angle":17.3}},
{"transform":[{"filter":"datum.g=='gro'"}],"mark":{"type":"text","font":"Liberation Serif","fontSize":55,"fill":"#111111","align":"left","baseline":"alphabetic","angle":-23.3}},
{"transform":[{"filter":"datum.g=='groi'"}],"mark":{"type":"text","font":"Liberation Serif","fontStyle":"italic","fontSize":55,"fill":"#111111","align":"left","baseline":"alphabetic","angle":-23.3}},
{"transform":[{"filter":"datum.g=='zt'"}],"mark":{"type":"text","font":"Liberation Serif","fontSize":54,"fill":"#111111","align":"left","baseline":"alphabetic","angle":270}},
{"transform":[{"filter":"datum.g=='zti'"}],"mark":{"type":"text","font":"Liberation Serif","fontStyle":"italic","fontSize":54,"fill":"#111111","align":"left","baseline":"alphabetic","angle":270}},
{"transform":[{"filter":"datum.g=='par'"}],"mark":{"type":"text","font":"Liberation Serif","fontSize":80,"fill":"#000000","align":"left","baseline":"alphabetic"}},
{"transform":[{"filter":"datum.g=='bold'"}],"mark":{"type":"text","font":"Liberation Serif","fontWeight":"bold","fontSize":80,"fill":"#000000","align":"left","baseline":"alphabetic"}}
]}
]},
{"data":{"name":"cbar"},"encoding":{"x":{"datum":0,"type":"quantitative","scale":{"domain":[0,1],"range":[1410,1441]},"axis":null},"x2":{"datum":1},"y":{"field":"K1","type":"quantitative","scale":{"domain":[0.7,27.9],"range":[736,114]},"axis":{"orient":"right","offset":-2350,"title":null,"values":[0.7,3.42,6.14,8.86,11.58,14.3,17.02,19.74,22.46,25.18,27.9],"labelExpr":"datum.value<10?format(datum.value,'.3f'):format(datum.value,'.2f')","domain":false,"tickColor":"#808080","tickWidth":3,"tickSize":18,"labelPadding":22,"labelFont":"Liberation Serif","labelFontSize":51,"labelColor":"#111111","labelOverlap":false,"labelBound":false,"labelFlush":false}},"y2":{"field":"K2"}},
"layer":[
{"transform":[{"filter":"datum.part=='frame'"}],"mark":{"type":"rect","fill":"white","stroke":"#222222","strokeWidth":4}},
{"transform":[{"filter":"datum.part=='cap'"}],"mark":{"type":"rect","fill":"#000000"}},
{"transform":[{"filter":"datum.part=='bar'"}],"mark":{"type":"rect","fill":{"gradient":"linear","x1":0,"y1":1,"x2":0,"y2":0,"stops":[{"offset":0,"color":"#50005c"},{"offset":0.048,"color":"#8000c8"},{"offset":0.1,"color":"#5a00f0"},{"offset":0.151,"color":"#0000ff"},{"offset":0.2,"color":"#0080ff"},{"offset":0.254,"color":"#00ffff"},{"offset":0.3,"color":"#00ff80"},{"offset":0.349,"color":"#00ff00"},{"offset":0.4,"color":"#80ff00"},{"offset":0.452,"color":"#d0ff00"},{"offset":0.5,"color":"#ffff00"},{"offset":0.548,"color":"#ffb000"},{"offset":0.6,"color":"#ff8000"},{"offset":0.651,"color":"#ff3000"},{"offset":0.7,"color":"#ff0000"},{"offset":0.8,"color":"#ff0000"},{"offset":0.852,"color":"#d80000"},{"offset":0.9,"color":"#b00000"},{"offset":1,"color":"#600000"}]}}}
]},
{"encoding":{"x":{"field":"zeta","type":"quantitative","scale":{"domain":[0,0.2],"range":[2387,3718]},"axis":{"orient":"bottom","offset":-304,"title":null,"values":[0,0.02,0.04,0.06,0.08,0.1,0.12,0.14,0.16,0.18,0.2],"labelExpr":"round(datum.value*100)%4==0?format(datum.value,'.2f'):''","domainColor":"#000000","domainWidth":5,"tickColor":"#000000","tickWidth":5,"tickSize":{"condition":{"test":"round(datum.value*100)%4==0","value":21},"value":11},"labelPadding":14,"labelFont":"Liberation Serif","labelFontSize":62,"labelColor":"#000000","labelOverlap":false,"labelBound":false,"labelFlush":false}},"y":{"field":"K","type":"quantitative","scale":{"domain":[0.5,4],"range":[1044,53]},"axis":{"orient":"left","offset":-2387,"title":null,"values":[0.5,0.75,1,1.25,1.5,1.75,2,2.25,2.5,2.75,3,3.25,3.5,3.75,4],"labelExpr":"(datum.value*2)%1==0?format(datum.value,'.1f'):''","domainColor":"#000000","domainWidth":5,"tickColor":"#000000","tickWidth":5,"tickSize":{"condition":{"test":"(datum.value*2)%1==0","value":21},"value":12},"labelPadding":13,"labelFont":"Liberation Serif","labelFontSize":62,"labelColor":"#000000","labelOverlap":false,"labelBound":false,"labelFlush":false}}},
"layer":[
{"data":{"name":"series"},"transform":[{"filter":"datum.s=='cg'"}],"layer":[{"mark":{"type":"line","stroke":"#ff0000","strokeWidth":6}},{"mark":{"type":"point","shape":"square","filled":true,"fill":"#ff0000","stroke":null,"size":484,"opacity":1}}]},
{"data":{"name":"series"},"transform":[{"filter":"datum.s=='min'"}],"layer":[{"mark":{"type":"line","stroke":"#0000ff","strokeWidth":6}},{"mark":{"type":"point","shape":"circle","filled":true,"fill":"#0000ff","stroke":null,"size":529,"opacity":1}}]},
{"data":{"name":"keysB"},"transform":[{"filter":"datum.s=='cg'"}],"layer":[{"mark":{"type":"rule","stroke":"#ff0000","strokeWidth":6,"strokeCap":"round"},"encoding":{"x2":{"field":"zeta2"}}},{"mark":{"type":"point","shape":"square","filled":true,"fill":"#ff0000","stroke":null,"size":484,"opacity":1},"encoding":{"x":{"field":"mid","type":"quantitative"}}}]},
{"data":{"name":"keysB"},"transform":[{"filter":"datum.s=='min'"}],"layer":[{"mark":{"type":"rule","stroke":"#0000ff","strokeWidth":6,"strokeCap":"round"},"encoding":{"x2":{"field":"zeta2"}}},{"mark":{"type":"point","shape":"circle","filled":true,"fill":"#0000ff","stroke":null,"size":529,"opacity":1},"encoding":{"x":{"field":"mid","type":"quantitative"}}}]},
{"data":{"name":"arrowB"},"layer":[{"mark":{"type":"rule","stroke":"#000000","strokeWidth":5},"encoding":{"y2":{"field":"K2"}}},{"transform":[{"calculate":"datum.K2+0.02","as":"K"}],"mark":{"type":"point","shape":"M-1,-1.7L1,-1.7L0,1.7Z","filled":true,"fill":"#000000","stroke":null,"size":256,"opacity":1}}]},
{"data":{"name":"notesB"},"encoding":{"text":{"field":"text"}},"layer":[
{"transform":[{"filter":"datum.g=='yt'"}],"mark":{"type":"text","font":"Liberation Serif","fontSize":62,"fill":"#000000","align":"left","baseline":"alphabetic","angle":270}},
{"transform":[{"filter":"datum.g=='yti'"}],"mark":{"type":"text","font":"Liberation Serif","fontStyle":"italic","fontSize":62,"fill":"#000000","align":"left","baseline":"alphabetic","angle":270}},
{"transform":[{"filter":"datum.g=='xt'"}],"mark":{"type":"text","font":"Liberation Serif","fontSize":62,"fill":"#000000","align":"left","baseline":"alphabetic"}},
{"transform":[{"filter":"datum.g=='it62'"}],"mark":{"type":"text","font":"Liberation Serif","fontStyle":"italic","fontSize":62,"fill":"#000000","align":"left","baseline":"alphabetic"}},
{"transform":[{"filter":"datum.g=='sub'"}],"mark":{"type":"text","font":"Liberation Serif","fontStyle":"italic","fontSize":38,"fill":"#000000","align":"left","baseline":"alphabetic"}},
{"transform":[{"filter":"datum.g=='re66'"}],"mark":{"type":"text","font":"Liberation Serif","fontSize":67,"fill":"#000000","align":"left","baseline":"alphabetic"}},
{"transform":[{"filter":"datum.g=='it66'"}],"mark":{"type":"text","font":"Liberation Serif","fontStyle":"italic","fontSize":67,"fill":"#000000","align":"left","baseline":"alphabetic"}},
{"transform":[{"filter":"datum.g=='par'"}],"mark":{"type":"text","font":"Liberation Serif","fontSize":80,"fill":"#000000","align":"left","baseline":"alphabetic"}},
{"transform":[{"filter":"datum.g=='bold'"}],"mark":{"type":"text","font":"Liberation Serif","fontWeight":"bold","fontSize":80,"fill":"#000000","align":"left","baseline":"alphabetic"}}
]}
]}
],
"resolve":{"scale":{"x":"independent","y":"independent"}}
}
